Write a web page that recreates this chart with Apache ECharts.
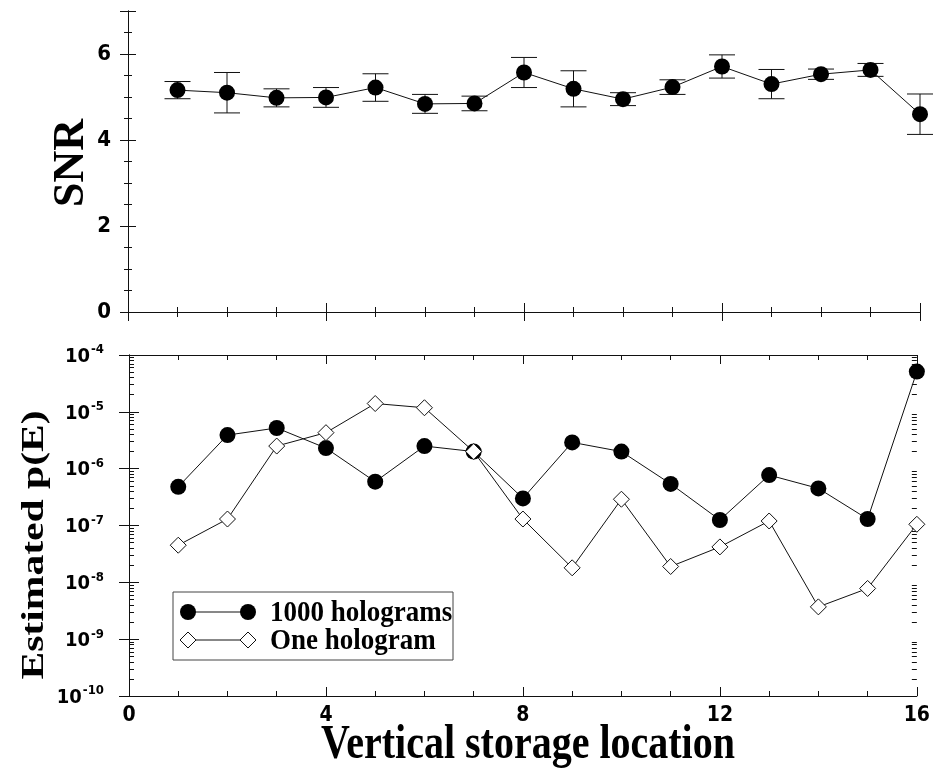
<!DOCTYPE html>
<html>
<head>
<meta charset="utf-8">
<script src="https://cdn.jsdelivr.net/npm/echarts@6/dist/echarts.min.js"></script>
<style>
  html, body { margin: 0; padding: 0; background: #fff; }
  #chart { width: 933px; height: 769px; }
</style>
</head>
<body>
<div id="chart"></div>
<script>
// Storage locations along the vertical axis of the crystal
const locations = [1, 2, 3, 4, 5, 6, 7, 8, 9, 10, 11, 12, 13, 14, 15, 16];

// Mean SNR per location and its spread (half-length of the error bar)
const snr    = [5.16, 5.10, 4.98, 4.99, 5.22, 4.84, 4.85, 5.57, 5.19, 4.95, 5.23, 5.71, 5.30, 5.53, 5.63, 4.60];
const snrErr = [0.20, 0.47, 0.21, 0.23, 0.32, 0.22, 0.17, 0.35, 0.42, 0.15, 0.17, 0.27, 0.34, 0.12, 0.15, 0.47];

// Estimated probability of error
const pe1000 = [4.8e-7, 3.9e-6, 5.2e-6, 2.3e-6, 5.9e-7, 2.5e-6, 2.0e-6, 3.0e-7, 2.9e-6, 2.0e-6, 5.4e-7, 1.25e-7, 7.7e-7, 4.5e-7, 1.3e-7, 5.1e-5];
const peOne  = [4.5e-8, 1.3e-7, 2.5e-6, 4.3e-6, 1.4e-5, 1.18e-5, 2.0e-6, 1.3e-7, 1.8e-8, 2.9e-7, 1.9e-8, 4.2e-8, 1.2e-7, 3.7e-9, 7.8e-9, 1.05e-7];

const seriesNames = ['1000 holograms', 'One hologram'];

// Axis ranges
const xMin = 0, xMax = 16, xStep = 4;
const snrMin = 0, snrMax = 7, snrStep = 2;
const peMin = 1e-10, peMax = 1e-4;

// Minor log ticks (2..9 within each decade)
const peMinorTicks = [];
for (let e = -10; e < -4; e++) {
  for (let m = 2; m <= 9; m++) peMinorTicks.push(m * Math.pow(10, e));
}

const INK = '#111';
const tickFont = '"DejaVu Sans Condensed", "Liberation Sans Narrow", "Arial Narrow", "Liberation Sans", sans-serif';
const serif = '"Liberation Serif", "Times New Roman", serif';

function xAxisCfg(gridIndex, position, withLabels) {
  return {
    type: 'value', gridIndex, position, min: xMin, max: xMax, interval: xStep,
    axisLine: { show: true, lineStyle: { color: INK, width: 1 } },
    axisTick: { show: true, inside: true, length: 9, lineStyle: { color: INK } },
    minorTick: { show: true, splitNumber: 4, length: 5, lineStyle: { color: INK } },
    splitLine: { show: false },
    axisLabel: withLabels ? {
      show: true, margin: 9, color: '#000', fontSize: 21, fontWeight: 'bold', fontFamily: tickFont
    } : { show: false }
  };
}

function snrAxisCfg(position, withLabels) {
  return {
    type: 'value', gridIndex: 0, position, min: snrMin, max: snrMax, interval: snrStep,
    axisLine: { show: true, lineStyle: { color: INK, width: 1 } },
    axisTick: { show: true, inside: true, length: 8, lineStyle: { color: INK } },
    minorTick: { show: true, splitNumber: 4, length: 4, lineStyle: { color: INK } },
    splitLine: { show: false },
    axisLabel: withLabels ? {
      show: true, margin: 17, color: '#000', fontSize: 22, fontWeight: 'bold', fontFamily: tickFont,
      showMaxLabel: false
    } : { show: false }
  };
}

function peAxisCfg(position, withLabels) {
  return {
    type: 'log', logBase: 10, gridIndex: 1, position, min: peMin, max: peMax, splitNumber: 6,
    axisLine: { show: true, lineStyle: { color: INK, width: 1 } },
    axisTick: { show: true, inside: true, length: 10, lineStyle: { color: INK } },
    splitLine: { show: false },
    axisLabel: withLabels ? {
      show: true, margin: 25, color: '#000',
      formatter: v => '{b|10}{s|' + Math.round(Math.log10(v)) + '}',
      rich: {
        b: { fontSize: 20, fontWeight: 'bold', fontFamily: tickFont, color: '#000', verticalAlign: 'bottom' },
        s: { fontSize: 13, fontWeight: 'bold', fontFamily: tickFont, color: '#000', verticalAlign: 'top', padding: [0, 0, 10, 1] }
      }
    } : { show: false }
  };
}

function peMinorAxisCfg(position) {
  return {
    type: 'log', logBase: 10, gridIndex: 1, position, min: peMin, max: peMax,
    axisLine: { show: false },
    axisTick: { show: true, inside: true, length: 5, customValues: peMinorTicks, lineStyle: { color: INK } },
    axisLabel: { show: false },
    splitLine: { show: false }
  };
}

const chart = echarts.init(document.getElementById('chart'), null, { renderer: 'canvas' });

chart.setOption({
  backgroundColor: '#fff',
  animation: false,
  grid: [
    { left: 128, top: 11, width: 792, height: 301 },
    { left: 129, top: 355, width: 791, height: 341 }
  ],
  xAxis: [
    xAxisCfg(0, 'bottom', false),
    xAxisCfg(0, 'top', false),
    xAxisCfg(1, 'bottom', true),
    xAxisCfg(1, 'top', false)
  ],
  yAxis: [
    snrAxisCfg('left', true),
    snrAxisCfg('right', false),
    peAxisCfg('left', true),
    peAxisCfg('right', false),
    peMinorAxisCfg('left'),
    peMinorAxisCfg('right')
  ],
  series: [
    {
      // error bars for SNR
      type: 'custom', xAxisIndex: 0, yAxisIndex: 0,
      encode: { x: 0, y: [1, 2] },
      data: locations.map((x, i) => [x, snr[i] - snrErr[i], snr[i] + snrErr[i]]),
      renderItem: (params, api) => {
        const x = api.value(0);
        const lo = api.coord([x, api.value(1)]);
        const hi = api.coord([x, api.value(2)]);
        const hw = 13;
        const st = { stroke: INK, lineWidth: 1 };
        return {
          type: 'group',
          children: [
            { type: 'line', shape: { x1: lo[0], y1: lo[1], x2: hi[0], y2: hi[1] }, style: st },
            { type: 'line', shape: { x1: lo[0] - hw, y1: lo[1], x2: lo[0] + hw, y2: lo[1] }, style: st },
            { type: 'line', shape: { x1: hi[0] - hw, y1: hi[1], x2: hi[0] + hw, y2: hi[1] }, style: st }
          ]
        };
      },
      z: 2
    },
    {
      type: 'line', xAxisIndex: 0, yAxisIndex: 0,
      data: locations.map((x, i) => [x, snr[i]]),
      symbol: 'circle', symbolSize: 16,
      lineStyle: { color: INK, width: 1 },
      itemStyle: { color: '#000' },
      z: 3
    },
    {
      name: seriesNames[0],
      type: 'line', xAxisIndex: 2, yAxisIndex: 2,
      data: locations.map((x, i) => [x, pe1000[i]]),
      symbol: 'circle', symbolSize: 16,
      lineStyle: { color: INK, width: 1 },
      itemStyle: { color: '#000' },
      z: 3
    },
    {
      name: seriesNames[1],
      type: 'line', xAxisIndex: 2, yAxisIndex: 2,
      data: locations.map((x, i) => [x, peOne[i]]),
      symbol: 'diamond', symbolSize: [16, 16],
      lineStyle: { color: INK, width: 1 },
      itemStyle: { color: '#fff', borderColor: INK, borderWidth: 1 },
      z: 3
    }
  ],
  graphic: [
    // axis titles
    {
      type: 'text', x: 72, y: 163, rotation: Math.PI / 2,
      style: { text: 'SNR', font: 'bold 44px ' + serif, fill: '#000', align: 'center', verticalAlign: 'middle' }
    },
    {
      type: 'text', x: 35, y: 545, rotation: Math.PI / 2, scaleX: 1.3,
      style: { text: 'Estimated p(E)', font: 'bold 32px ' + serif, fill: '#000', align: 'center', verticalAlign: 'middle' }
    },
    {
      type: 'text', x: 528, y: 746, scaleY: 1.2,
      style: { text: 'Vertical storage location', font: 'bold 40px ' + serif, fill: '#000', align: 'center', verticalAlign: 'middle' }
    },
    // legend box
    {
      type: 'rect', shape: { x: 173, y: 592, width: 280, height: 68 },
      style: { fill: '#fff', stroke: '#444', lineWidth: 1 }, z: 10
    },
    { type: 'line', shape: { x1: 188, y1: 612, x2: 248, y2: 612 }, style: { stroke: INK, lineWidth: 1 }, z: 11 },
    { type: 'circle', shape: { cx: 188, cy: 612, r: 8 }, style: { fill: '#000' }, z: 11 },
    { type: 'circle', shape: { cx: 248, cy: 612, r: 8 }, style: { fill: '#000' }, z: 11 },
    {
      type: 'text', x: 270, y: 613, scaleY: 1.1,
      style: { text: seriesNames[0], font: 'bold 27px ' + serif, fill: '#000', align: 'left', verticalAlign: 'middle' }, z: 11
    },
    { type: 'line', shape: { x1: 188, y1: 640, x2: 248, y2: 640 }, style: { stroke: INK, lineWidth: 1 }, z: 11 },
    { type: 'polygon', shape: { points: [[188, 632], [196, 640], [188, 648], [180, 640]] }, style: { fill: '#fff', stroke: INK, lineWidth: 1 }, z: 11 },
    { type: 'polygon', shape: { points: [[248, 632], [256, 640], [248, 648], [240, 640]] }, style: { fill: '#fff', stroke: INK, lineWidth: 1 }, z: 11 },
    {
      type: 'text', x: 270, y: 641, scaleY: 1.1,
      style: { text: seriesNames[1], font: 'bold 27px ' + serif, fill: '#000', align: 'left', verticalAlign: 'middle' }, z: 11
    }
  ]
});
</script>
</body>
</html>
